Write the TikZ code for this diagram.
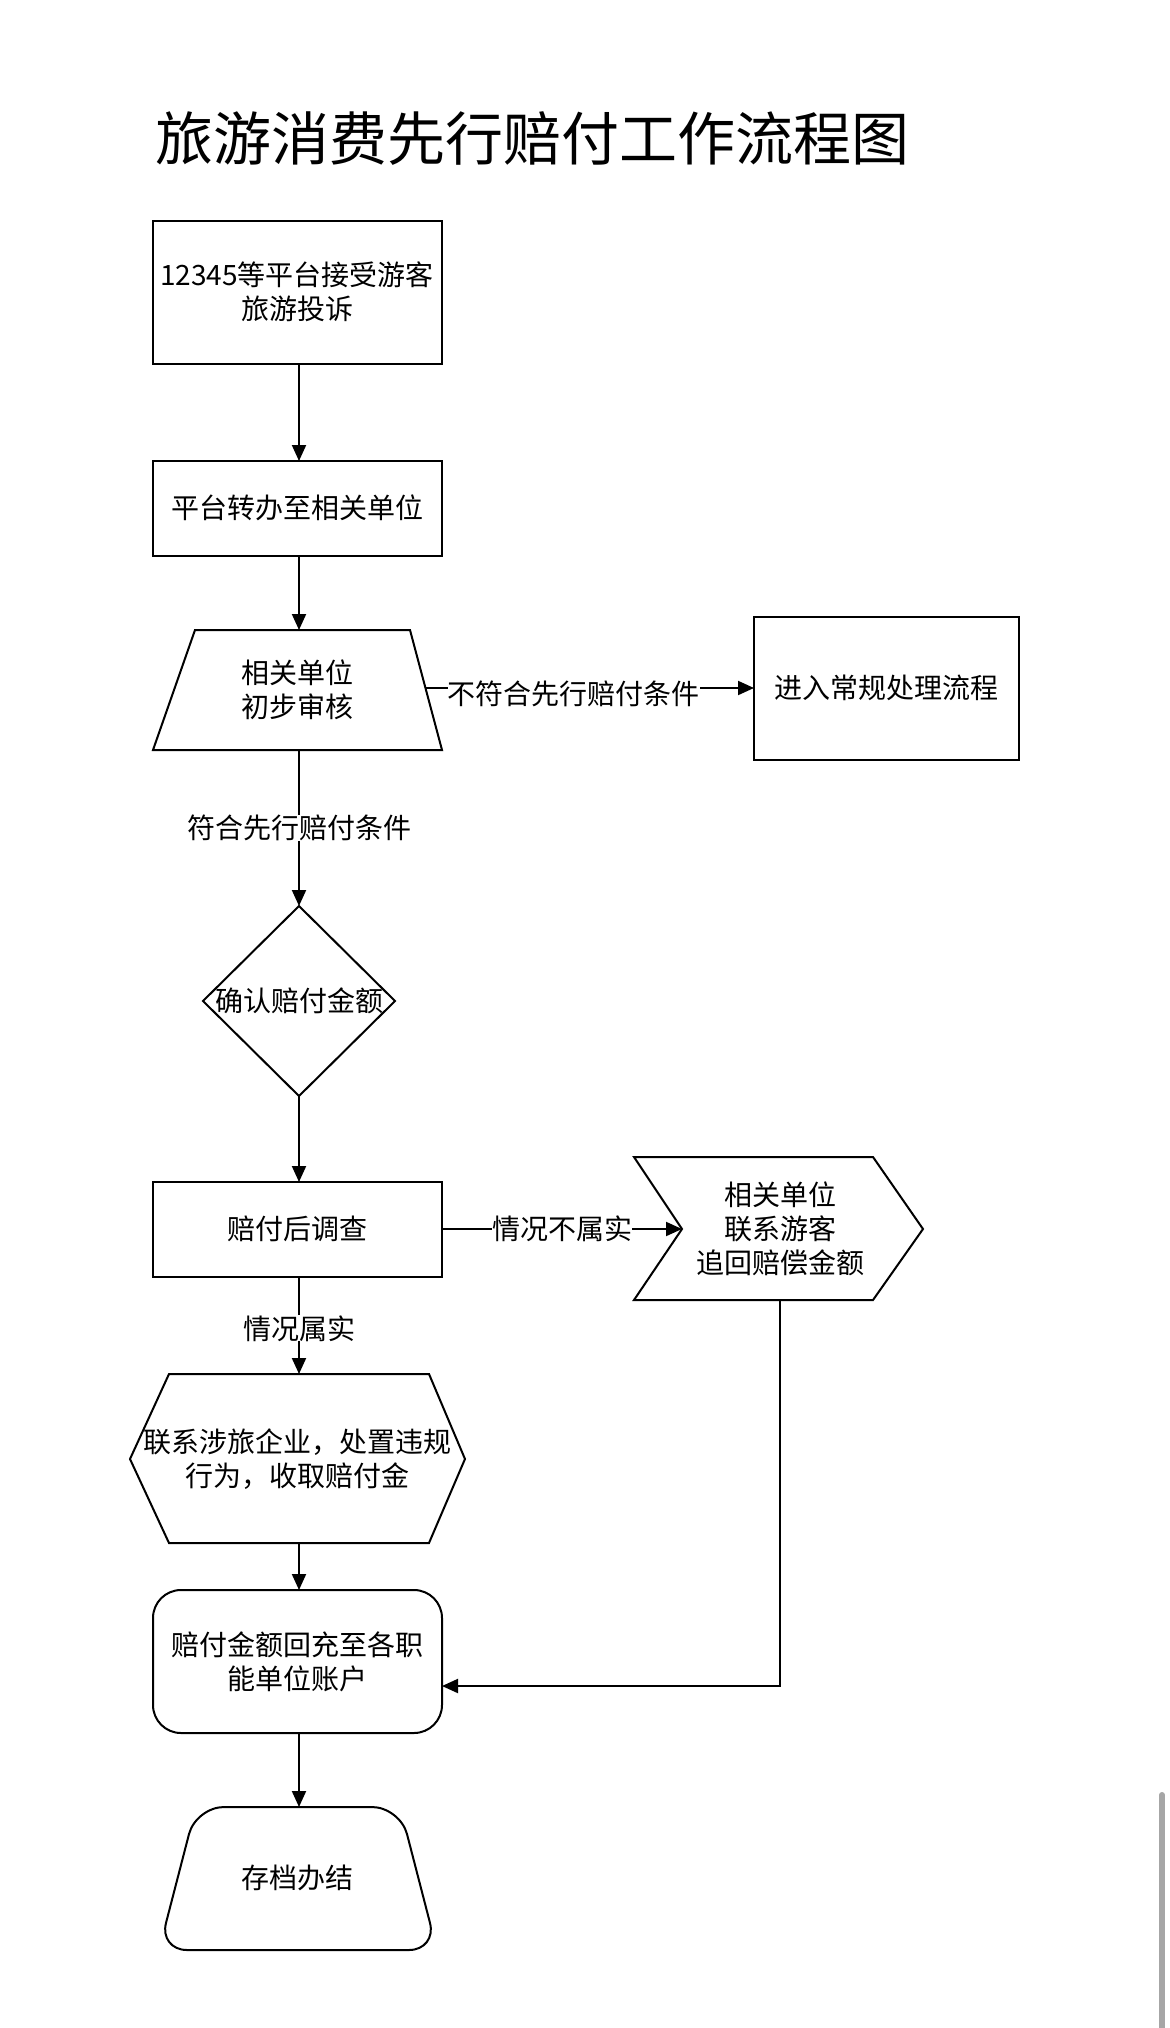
\documentclass[tikz,border=0pt]{standalone}
\usepackage{fontspec}
\setmainfont{Noto Sans CJK SC}
\usetikzlibrary{arrows.meta}
\begin{document}
\begin{tikzpicture}[x=0.5pt,y=-0.5pt,
  sh/.style={draw=black,line width=1pt},
  lbl/.style={font=\fontsize{14pt}{17pt}\selectfont,align=center,inner sep=1pt},
  arr/.style={line width=1pt,-{Triangle[length=8pt,width=7pt]}},
  elbl/.style={lbl,fill=white,inner sep=0pt}]
\useasboundingbox (0,0) rectangle (1170,2028);
\node[font=\fontsize{29pt}{33pt}\selectfont,anchor=west,inner sep=0pt] (title) at (155,139) {旅游消费先行赔付工作流程图};
% shapes
\draw[sh] (153,221) rectangle (442,364);
\node[lbl] (n1) at (297,292) {12345等平台接受游客\\旅游投诉};
\draw[sh] (153,461) rectangle (442,556);
\node[lbl] (n2) at (297,508) {平台转办至相关单位};
\draw[sh] (195,630) -- (410,630) -- (442,750) -- (153,750) -- cycle;
\node[lbl] (n3) at (297,690) {相关单位\\初步审核};
\draw[sh] (754,617) rectangle (1019,760);
\node[lbl] (n4) at (886,688) {进入常规处理流程};
\draw[sh] (299,906) -- (395,1001) -- (299,1096) -- (203,1001) -- cycle;
\node[lbl] (n5) at (299,1001) {确认赔付金额};
\draw[sh] (153,1182) rectangle (442,1277);
\node[lbl] (n6) at (297,1229) {赔付后调查};
\draw[sh] (634,1157) -- (873,1157) -- (923,1229) -- (873,1300) -- (634,1300) -- (682,1229) -- cycle;
\node[lbl] (n7) at (780,1229) {相关单位\\联系游客\\追回赔偿金额};
\draw[sh] (169,1374) -- (429,1374) -- (465,1459) -- (429,1543) -- (169,1543) -- (130,1459) -- cycle;
\node[lbl] (n8) at (297,1459) {联系涉旅企业，处置违规\\行为，收取赔付金};
\draw[sh,rounded corners=14pt] (153,1590) rectangle (442,1733);
\node[lbl] (n9) at (297,1662) {赔付金额回充至各职\\能单位账户};
\draw[sh,rounded corners=14pt] (196,1807) -- (400,1807) -- (437,1950) -- (159,1950) -- cycle;
\node[lbl] (n10) at (297,1878) {存档办结};
% connector anchors
\coordinate (b1) at (299,364); \coordinate (t2) at (299,461);
\coordinate (b2) at (299,556); \coordinate (t3) at (299,630);
\coordinate (r3) at (426,688); \coordinate (l4) at (754,688);
\coordinate (b3) at (299,750); \coordinate (t5) at (299,906);
\coordinate (b5) at (299,1096); \coordinate (t6) at (299,1182);
\coordinate (r6) at (442,1229); \coordinate (l7) at (682,1229);
\coordinate (b6) at (299,1277); \coordinate (t8) at (299,1374);
\coordinate (b8) at (299,1543); \coordinate (t9) at (299,1590);
\coordinate (b7) at (780,1300); \coordinate (c7) at (780,1686); \coordinate (r9) at (442,1686);
\coordinate (b9) at (299,1733); \coordinate (t10) at (299,1807);
\draw[arr] (b1) -- (t2);
\draw[arr] (b2) -- (t3);
\draw[arr] (r3) -- node[elbl,pos=0.45,yshift=-3pt] (e1) {不符合先行赔付条件} (l4);
\draw[arr] (b3) -- node[elbl,pos=0.5] (e2) {符合先行赔付条件} (t5);
\draw[arr] (b5) -- (t6);
\draw[arr] (r6) -- node[elbl,pos=0.5] (e3) {情况不属实} (l7);
\draw[arr] (b6) -- node[elbl,pos=0.53] (e4) {情况属实} (t8);
\draw[arr] (b8) -- (t9);
\draw[arr] (b7) -- (c7) -- (r9);
\draw[arr] (b9) -- (t10);
% scrollbar
\draw[line width=3pt,gray!70,line cap=round] (1162,1795) -- (1162,2028);
\end{tikzpicture}
\end{document}
